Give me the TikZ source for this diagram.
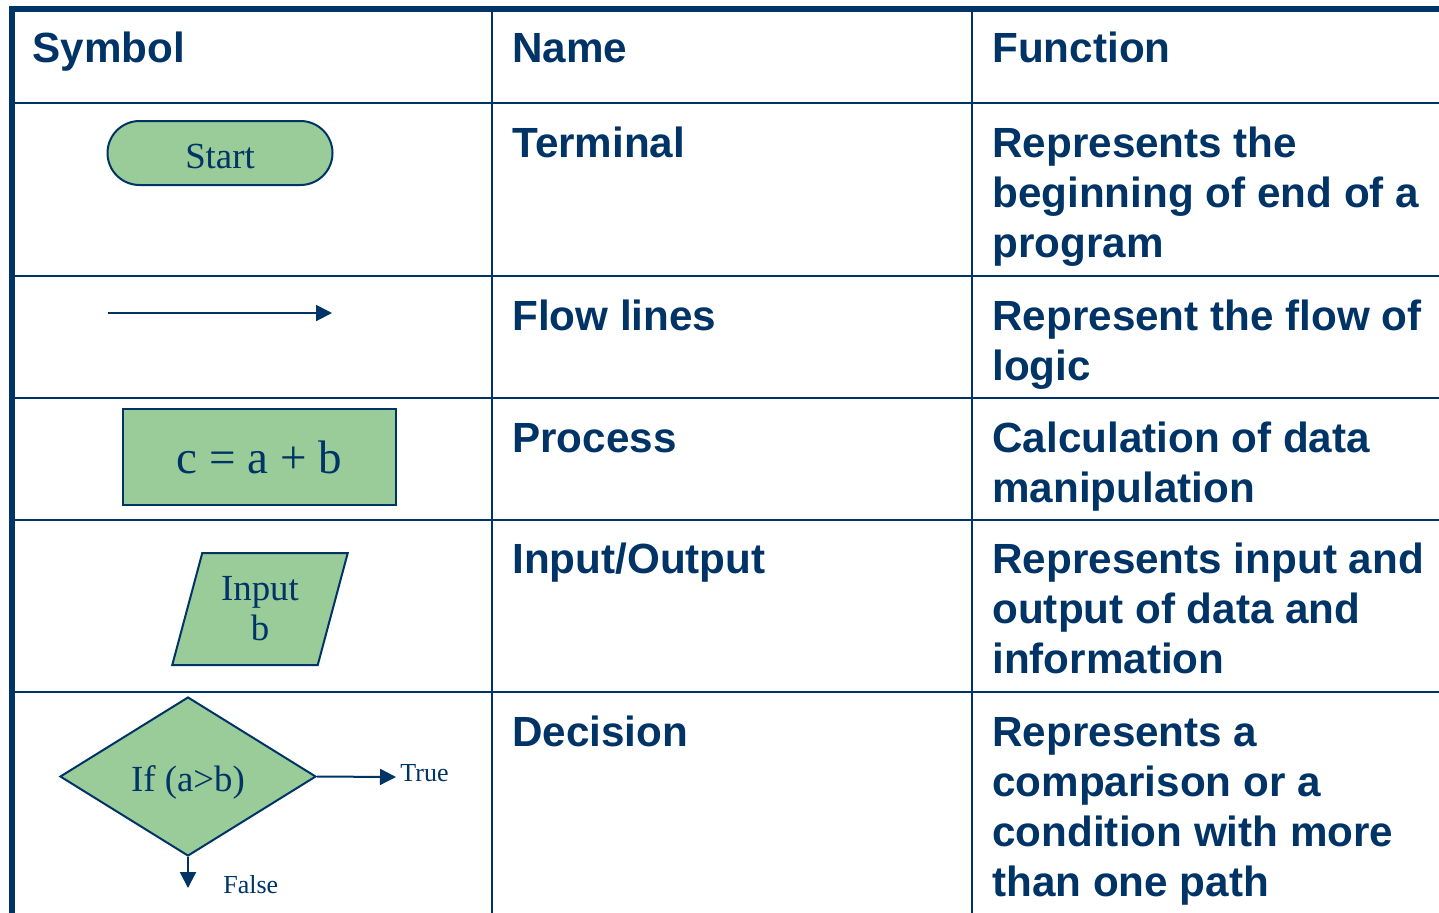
\documentclass[tikz,border=0pt]{standalone}
\usepackage{fontspec}
\setmainfont{Liberation Serif}
\setsansfont{Liberation Sans}
\usetikzlibrary{shapes.geometric, shapes.misc, arrows.meta}
\definecolor{navy}{HTML}{003366}
\definecolor{symgreen}{HTML}{99CC99}
\tikzset{
 cell/.style={anchor=base west, inner sep=0pt, align=left, text=navy,
   font=\sffamily\bfseries\fontsize{21.1}{25}\selectfont},
 symbox/.style={draw=navy, fill=symgreen, line width=1pt, text=navy, inner sep=0pt,
   font=\fontsize{18.4}{20}\selectfont},
 flow/.style={draw=navy, line width=1pt, -{Triangle[length=8pt,width=8pt]}},
 rule/.style={draw=navy, line width=1.2pt},
 outerline/.style={draw=navy, line width=3pt},
 small/.style={anchor=base west, inner sep=0pt, text=navy, font=\fontsize{13}{15}\selectfont}
}
\begin{document}
\begin{tikzpicture}[x=0.5pt, y=-0.5pt]
 \useasboundingbox (0,0) rectangle (1439,912);
 \fill[white] (0,0) rectangle (1439,912);

 \foreach \y in {103,276,398,520,692}
   \draw[rule] (12,\y) -- (1445,\y);
 \foreach \x in {492,972}
   \draw[rule] (\x,9) -- (\x,920);
 \draw[outerline] (1445,9) -- (12,9) -- (12,920);

 % base of a wrapped cell is its last line
 \node[cell] (hsym) at (32,62) {Symbol};
 \node[cell] (hname) at (512,62) {Name};
 \node[cell] (hfun) at (992,62) {Function};

 \node[cell] (nterm) at (512,157) {Terminal};
 \node[cell] (fterm) at (992,257) {Represents the\\beginning of end of a\\program};
 \node[cell] (nflow) at (512,330) {Flow lines};
 \node[cell] (fflow) at (992,380) {Represent the flow of\\logic};
 \node[cell] (nproc) at (512,452) {Process};
 \node[cell] (fproc) at (992,502) {Calculation of data\\manipulation};
 \node[cell] (nio) at (512,573) {Input/Output};
 \node[cell] (fio) at (992,673) {Represents input and\\output of data and\\information};
 \node[cell] (ndec) at (512,746) {Decision};
 \node[cell] (fdec) at (992,896) {Represents a\\comparison or a\\condition with more\\than one path};

 \node[symbox, rounded rectangle, minimum width=112.5pt, minimum height=32pt] (start) at (220,153) {\raisebox{-7.5pt}[0pt][0pt]{Start}};

 \coordinate (fla) at (108,313);
 \coordinate (flb) at (332,313);
 \draw[flow] (fla) -- (flb);

 \node[symbox, rectangle, minimum width=136.5pt, minimum height=48pt,
   font=\fontsize{23.5}{26}\selectfont] (proc) at (259.5,457) {c = a + b};

 \node[symbox, trapezium, trapezium left angle=72.6, trapezium right angle=107.4,
   trapezium stretches=true, minimum width=88pt, minimum height=56pt, align=center] (io) at (260,609) {Input\\b};

 \node[symbox, diamond, minimum width=128pt, minimum height=79.5pt] (dec) at (188,776.5) {\raisebox{-7.7pt}[0pt][0pt]{If (a>b)}};
 \coordinate (tru) at (396,777);
 \coordinate (fls) at (188,888);
 \draw[flow] (dec.east) -- (tru);
 \draw[flow] (dec.south) -- (fls);
 \node[small] (trulbl) at (400,781) {True};
 \node[small] (flslbl) at (223,893) {False};
\end{tikzpicture}
\end{document}
